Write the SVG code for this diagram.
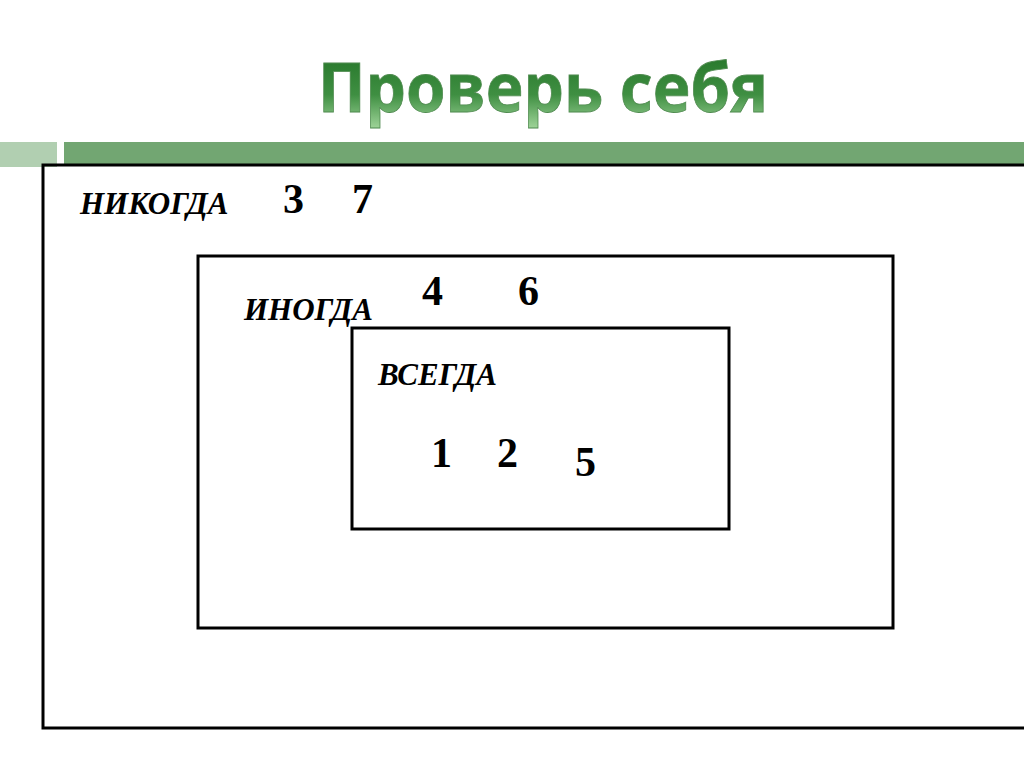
<svg xmlns="http://www.w3.org/2000/svg" width="1024" height="767" viewBox="0 0 1024 767">
<defs>
<linearGradient id="tg" x1="0" y1="0" x2="0" y2="1">
<stop offset="0" stop-color="#1e6e22"/>
<stop offset="0.6" stop-color="#3f8f42"/>
<stop offset="1" stop-color="#a9dba2"/>
</linearGradient>
<style>
.box{fill:none;stroke:#000;stroke-width:3}
.lbl{font-family:"Liberation Serif",serif;font-style:italic;font-weight:bold;font-size:31px;fill:#000}
.num{font-family:"Liberation Serif",serif;font-weight:bold;font-size:42px;fill:#000}
</style>
</defs>
<rect width="1024" height="767" fill="#fff"/>
<text x="318" y="112" textLength="450" lengthAdjust="spacingAndGlyphs" font-family="'Open Sans',sans-serif" font-weight="bold" font-size="68" fill="url(#tg)" stroke="#4f8a4f" stroke-width="0.8">Проверь себя</text>
<rect x="0" y="142" width="57" height="25" fill="#b1cfb1"/>
<rect x="64" y="142" width="960" height="24" fill="#72a672"/>
<g id="never">
<rect class="box" x="43" y="165" width="1000" height="563"/>
<text class="lbl" x="80" y="214">НИКОГДА</text>
<text class="num" x="283" y="213">3</text>
<text class="num" x="352" y="213">7</text>
</g>
<g id="sometimes">
<rect class="box" x="198" y="256" width="695" height="372"/>
<text class="lbl" x="244" y="320">ИНОГДА</text>
<text class="num" x="422" y="305">4</text>
<text class="num" x="518" y="305">6</text>
</g>
<g id="always">
<rect class="box" x="352" y="328" width="377" height="201"/>
<text class="lbl" x="378" y="385">ВСЕГДА</text>
<text class="num" x="431" y="467">1</text>
<text class="num" x="497" y="467">2</text>
<text class="num" x="575" y="476">5</text>
</g>
<g id="connectors"/>
</svg>
